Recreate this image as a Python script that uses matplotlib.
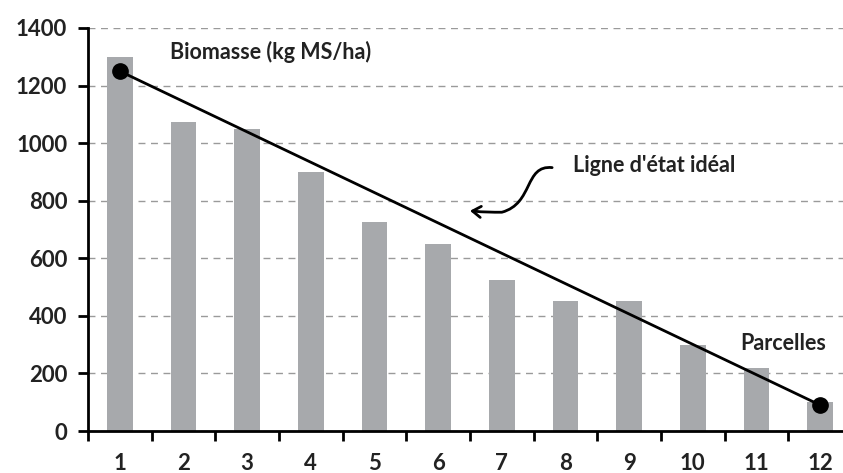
import numpy as np
import matplotlib.pyplot as plt
from matplotlib.patches import FancyArrowPatch
from matplotlib.path import Path

# parcelles et biomasse (kg MS/ha)
parcelles = list(range(1, 13))
biomasse = [1300, 1075, 1050, 900, 725, 650, 525, 450, 450, 300, 220, 100]
# ligne d'etat ideal (extremites)
ligne_x = [1, 12]
ligne_y = [1250, 90]
yticks = [0, 200, 400, 600, 800, 1000, 1200, 1400]

plt.rcParams['font.family'] = ['Lato', 'DejaVu Sans']
txt = '#222222'

fig = plt.figure(figsize=(8.43, 4.73), dpi=100)
ax = fig.add_axes([88/843, 42/473, 764/843, 403/473])

ax.bar(parcelles, biomasse, width=0.4, color='#a7a9ac', zorder=2)
ax.plot(ligne_x, ligne_y, color='black', lw=2, marker='o', ms=11, zorder=3)

ax.set_xlim(0.5, 12.5)
ax.set_ylim(0, 1400)
ax.set_yticks(yticks)
ax.set_xticks(parcelles)
ax.set_xticks(np.arange(0.5, 13, 1), minor=True)
ax.tick_params(axis='x', which='major', length=0, pad=16)
ax.tick_params(axis='x', which='minor', length=7, width=2, direction='out')
ax.tick_params(axis='y', length=7, width=2, direction='out', pad=8)
for lab in ax.get_xticklabels() + ax.get_yticklabels():
    lab.set_fontsize(16)
    lab.set_fontweight('bold')
    lab.set_color(txt)

ax.yaxis.grid(True, color='#9a9a9a', ls=(0, (5, 4)), lw=1)
ax.spines['top'].set_visible(False)
ax.spines['right'].set_visible(False)
ax.spines['left'].set_linewidth(2)
ax.spines['bottom'].set_linewidth(2)
ax.set_axisbelow(True)

ax.text(1.79, 1318, 'Biomasse (kg MS/ha)', fontsize=15.5, fontweight='bold', color=txt,
        va='center', ha='left')
ax.text(8.12, 923, "Ligne d'état idéal", fontsize=15.5, fontweight='bold', color=txt,
        va='center', ha='left')
ax.text(11.42, 305, 'Parcelles', fontsize=15.5, fontweight='bold', color=txt,
        va='center', ha='center')

# fleche en S
verts = [(7.79, 915), (7.35, 925), (7.5, 790), (7.0, 760), (6.85, 760), (6.72, 760), (6.5, 765)]
codes = [Path.MOVETO, Path.CURVE4, Path.CURVE4, Path.CURVE4, Path.CURVE4, Path.CURVE4, Path.CURVE4]
arrow = FancyArrowPatch(path=Path(verts, codes), arrowstyle='->,head_length=6,head_width=4',
                        color='black', lw=2, zorder=4)
ax.add_patch(arrow)

fig.savefig('out.png', dpi=100)
